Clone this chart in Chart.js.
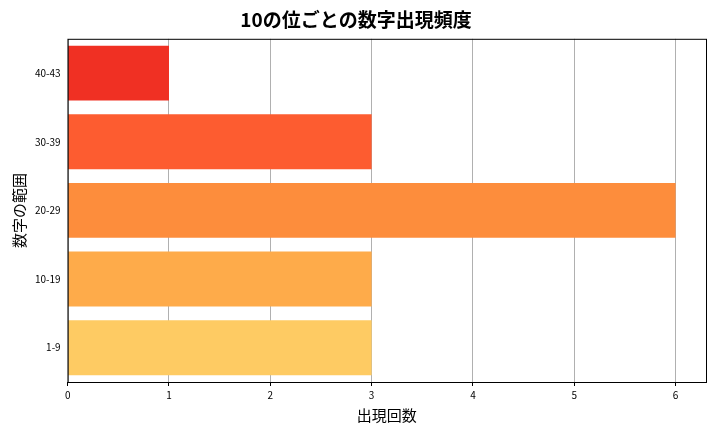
<!DOCTYPE html>
<html><head><meta charset="utf-8">
<script src="https://cdn.jsdelivr.net/npm/chart.js@4"></script>
<style>html,body{margin:0;padding:0;background:#fff}#w{width:720px;height:432px}</style>
</head><body><div id="w"><canvas id="c"></canvas></div>
<script>
const categories = ['1-9','10-19','20-29','30-39','40-43'];
const counts = [3,3,6,3,1];
const barColors = ['#fecb63','#feab4a','#fd8d3c','#fd5c30','#f03023'];
const xTicks = [0,1,2,3,4,5,6];
const frame = {id:'frame',afterDraw(ch){const a=ch.chartArea,x=ch.ctx;x.save();x.strokeStyle='#000';x.lineWidth=1;x.strokeRect(a.left+0.5,a.top+0.5,a.right-a.left,a.bottom-a.top);x.restore();}};
const F = "'Noto Sans CJK JP','Noto Sans',sans-serif";
new Chart(document.getElementById('c'),{
 type:'bar',
 data:{labels:categories,datasets:[{data:counts,backgroundColor:barColors,categoryPercentage:1,barPercentage:0.8}]},
 options:{indexAxis:'y',responsive:true,maintainAspectRatio:false,animation:false,
  layout:{padding:{left:6,right:14,top:4,bottom:4}},
  plugins:{legend:{display:false},tooltip:{enabled:false},
   title:{display:true,text:'10の位ごとの数字出現頻度',color:'#000',font:{family:F,size:19},padding:{top:4,bottom:8}}},
  scales:{
   x:{min:0,max:6.3,afterBuildTicks(s){s.ticks=xTicks.map(v=>({value:v}));},
    grid:{color:'#b0b0b0',drawTicks:true,tickLength:4,tickColor:'#000'},border:{display:false},
    ticks:{color:'#000',font:{family:F,size:10},maxRotation:0},
    title:{display:true,text:'出現回数',color:'#000',font:{family:F,size:15},padding:{top:2}}},
   y:{reverse:true,grid:{display:false,drawTicks:true,tickLength:4},border:{display:false},
    ticks:{color:'#000',font:{family:F,size:10}},
    title:{display:true,text:'数字の範囲',color:'#000',font:{family:F,size:15}}}
  }},
 plugins:[frame]
});
</script></body></html>
